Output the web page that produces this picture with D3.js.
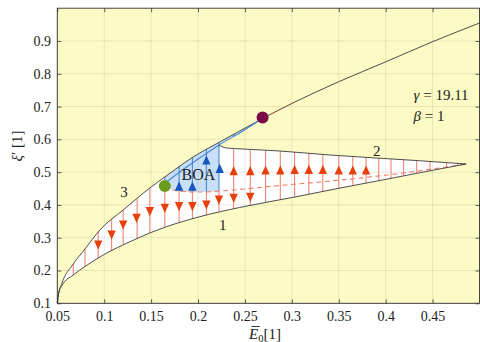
<!DOCTYPE html>
<html>
<head>
<meta charset="utf-8">
<script src="https://cdn.jsdelivr.net/npm/d3@7"></script>
<style>
  body { margin: 0; background: #fff; }
  svg { display: block; }
  svg text { font-family: 'Liberation Serif', 'DejaVu Serif', serif !important; fill: #222; }
</style>
</head>
<body>
<svg id="chart" width="480" height="342"></svg>
<script>
// ---- axis ticks ----
const xTicks = [0.05, 0.1, 0.15, 0.2, 0.25, 0.3, 0.35, 0.4, 0.45];
const xTickLabels = ["0.05", "0.1", "0.15", "0.2", "0.25", "0.3", "0.35", "0.4", "0.45"];
const yTicks = [0.1, 0.2, 0.3, 0.4, 0.5, 0.6, 0.7, 0.8, 0.9];
const yTickLabels = ["0.1", "0.2", "0.3", "0.4", "0.5", "0.6", "0.7", "0.8", "0.9"];

// ---- equilibrium branches ----
// branch 1 (lower stable branch)
const branch1X = [0.05, 0.0513, 0.055, 0.067, 0.0795, 0.0989, 0.1291, 0.1486, 0.1664, 0.2018, 0.2443, 0.3004, 0.35, 0.4004, 0.443, 0.4858];
const branch1Y = [0.1009, 0.1284, 0.1543, 0.1863, 0.2122, 0.2473, 0.29, 0.3144, 0.3336, 0.3641, 0.3922, 0.4227, 0.4507, 0.4782, 0.5019, 0.5248];
// branch 2 (upper right branch, from the corner to the cusp tip)
const branch2X = [0.2223, 0.2252, 0.2305, 0.2476, 0.2869, 0.3401, 0.3898, 0.4358, 0.4858];
const branch2Y = [0.5828, 0.5782, 0.5736, 0.5706, 0.5645, 0.5523, 0.5431, 0.5349, 0.5248];
// branch 3 (upper envelope)
const branch3X = [0.05, 0.0511, 0.055, 0.067, 0.0795, 0.0954, 0.1202, 0.1486, 0.1646, 0.1947, 0.2231, 0.2444, 0.2688, 0.3004, 0.35, 0.4004, 0.45, 0.5];
const branch3Y = [0.1009, 0.1253, 0.1619, 0.2199, 0.2656, 0.3236, 0.3845, 0.4516, 0.4852, 0.5462, 0.5919, 0.6255, 0.6636, 0.71, 0.7758, 0.8368, 0.8978, 0.9548];
// unstable middle branch (dashed)
const unstableX = [0.1646, 0.172, 0.184, 0.2018, 0.2231, 0.2443, 0.2869, 0.3295, 0.4146, 0.4858];
const unstableY = [0.458, 0.4471, 0.441, 0.4394, 0.4425, 0.4471, 0.4593, 0.4699, 0.4959, 0.5248];
// boundary of the basin of attraction
const basinEdgeX = [0.1646, 0.1805, 0.1947, 0.2089, 0.2223, 0.2444, 0.2688];
const basinEdgeY = [0.466, 0.5004, 0.5294, 0.5568, 0.5828, 0.6194, 0.6636];

// ---- trajectories (vertical phase lines) ----
const phaseX = [0.067, 0.0795, 0.0936, 0.1079, 0.1202, 0.1351, 0.1486, 0.1646, 0.1798, 0.194, 0.2089, 0.2223,
  0.238, 0.2557, 0.272, 0.2877, 0.3029, 0.3181, 0.333, 0.35, 0.3649, 0.3791, 0.3926, 0.4057, 0.4191, 0.433, 0.4472, 0.4649, 0.4766];
const downArrowX = [0.0936, 0.1079, 0.1202, 0.1345, 0.1486, 0.1646, 0.1798, 0.194, 0.2089, 0.2223, 0.238, 0.2557];
const downArrowY = [0.2778, 0.3083, 0.3388, 0.3592, 0.3794, 0.3897, 0.3946, 0.3946, 0.3998, 0.415, 0.4202, 0.4233];
const upArrowX = [0.238, 0.2557, 0.272, 0.2877, 0.3029, 0.3181, 0.333, 0.35, 0.3649, 0.3791];
const upArrowY = [0.5044, 0.5044, 0.5065, 0.5065, 0.5087, 0.5087, 0.5087, 0.5065, 0.5065, 0.5065];
const basinArrowX = [0.1798, 0.194, 0.2089, 0.2231];
const basinArrowY = [0.4574, 0.4574, 0.5371, 0.5117];

// ---- special points ----
const saddleNode = [0.1646, 0.458];
const cuspPoint = [0.2688, 0.667];

// ---- parameters ----
const paramLines = [["γ", "19.11"], ["β", "1"]];

// ---- colours ----
const C = {
  plotBg: "#fdfbc5",
  inside: "#ffffff",
  basin: "#c8e0f7",
  curve: "#3a3a3a",
  redLine: "#f08672",
  redArrow: "#e8400c",
  blueLine: "#4a86d0",
  blueArrow: "#1556c0",
  green: "#6b9a1c",
  purple: "#7a0a48"
};
const SERIF = "'Liberation Serif', 'DejaVu Serif', serif";

const svg = d3.select("#chart");
const x = d3.scaleLinear().domain([0.05, 0.5]).range([57.3, 479.5]);
const y = d3.scaleLinear().domain([0.1, 1.0]).range([303.3, 8.2]);
const [X0, X1] = x.range();
const [Y0, Y1] = y.range();

const gBg = svg.append("g");
const gFill = svg.append("g");
const gGrid = svg.append("g");
const gSeg = svg.append("g");
const gCurve = svg.append("g");
const gMark = svg.append("g");
const gText = svg.append("g");
const gAxis = svg.append("g");

gBg.append("rect").attr("x", X0).attr("y", Y1).attr("width", X1 - X0).attr("height", Y0 - Y1).attr("fill", C.plotBg);

const smooth = d3.line().x(d => x(d[0])).y(d => y(d[1])).curve(d3.curveMonotoneX);
const zip = (xs, ys) => xs.map((v, i) => [v, ys[i]]);

function drawCurve(xs, ys, stroke, width, dash) {
  return gCurve.append("path").attr("d", smooth(zip(xs, ys)))
    .attr("fill", "none").attr("stroke", stroke).attr("stroke-width", width)
    .attr("stroke-dasharray", dash || null).node();
}

// y (pixels) of a rendered curve at a given pixel x
function yAt(node, px) {
  const L = node.getTotalLength();
  let lo = 0, hi = L;
  const p0 = node.getPointAtLength(0), p1 = node.getPointAtLength(L);
  if (px <= p0.x) return p0.y;
  if (px >= p1.x) return p1.y;
  for (let i = 0; i < 40; i++) {
    const mid = (lo + hi) / 2;
    if (node.getPointAtLength(mid).x < px) lo = mid; else hi = mid;
  }
  return node.getPointAtLength((lo + hi) / 2).y;
}
function sample(node, pxA, pxB) {
  const n = Math.max(2, Math.ceil(Math.abs(pxB - pxA)));
  return d3.range(n + 1).map(i => {
    const px = pxA + (pxB - pxA) * i / n;
    return [px, yAt(node, px)];
  });
}

const dashNode = drawCurve(unstableX, unstableY, C.redLine, 1.2, "5,3.5");
const p1 = drawCurve(branch1X, branch1Y, C.curve, 0.9);
const p2 = drawCurve(branch2X, branch2Y, C.curve, 0.9);
const p3 = drawCurve(branch3X, branch3Y, C.curve, 0.9);
const pEdge = drawCurve(basinEdgeX, basinEdgeY, C.blueLine, 1.1);

// short unstable stretch along branch 3 beyond the cusp
svg.append("clipPath").attr("id", "cuspClip").append("rect")
  .attr("x", x(cuspPoint[0])).attr("y", Y1).attr("width", x(0.305) - x(cuspPoint[0])).attr("height", Y0 - Y1);
gCurve.append("path").attr("d", smooth(zip(branch3X, branch3Y)))
  .attr("fill", "none").attr("stroke", "#d0604a").attr("stroke-width", 0.8).attr("stroke-dasharray", "4,3")
  .attr("stroke-opacity", 0.8).attr("clip-path", "url(#cuspClip)");

// ---- filled regions ----
const poly = d3.line();
const xStart = x(branch1X[0]);
const xTip = x(branch1X[branch1X.length - 1]);
const xCorner = x(branch2X[0]);
const xSaddle = x(saddleNode[0]);
const xCusp = x(cuspPoint[0]);

const inside = [].concat(sample(p1, xStart, xTip), sample(p2, xTip, xCorner), sample(p3, xCorner, xStart));
gFill.append("path").attr("d", poly(inside) + "Z").attr("fill", C.inside);

const basin = [].concat(sample(p3, xSaddle, xCusp), sample(pEdge, xCusp, xCorner), sample(dashNode, xCorner, xSaddle));
gFill.append("path").attr("d", poly(basin) + "Z").attr("fill", C.basin);

// ---- grid ----
xTicks.forEach(t => gGrid.append("line").attr("x1", x(t)).attr("x2", x(t)).attr("y1", Y0).attr("y2", Y1)
  .attr("stroke", "#000").attr("stroke-opacity", 0.11).attr("stroke-width", 0.8));
yTicks.forEach(t => gGrid.append("line").attr("x1", X0).attr("x2", X1).attr("y1", y(t)).attr("y2", y(t))
  .attr("stroke", "#000").attr("stroke-opacity", 0.11).attr("stroke-width", 0.8));

// ---- phase lines ----
function seg(px, ya, yb, color) {
  gSeg.append("line").attr("x1", px).attr("x2", px).attr("y1", ya).attr("y2", yb)
    .attr("stroke", color).attr("stroke-width", 1.1);
}
phaseX.forEach(v => {
  const px = x(v);
  const yLow = yAt(p1, px);
  if (px < xSaddle - 0.01) {
    seg(px, yLow, yAt(p3, px), C.redLine);
  } else if (px <= xCorner + 0.01) {
    const yMid = yAt(dashNode, px);
    seg(px, yLow, yMid, C.redLine);
    seg(px, yMid, yAt(p3, px), C.blueLine);
  } else {
    seg(px, yLow, yAt(p2, px), C.redLine);
    if (px < xCusp) seg(px, yAt(pEdge, px), yAt(p3, px), C.blueLine);
  }
});

// ---- arrows ----
const triDown = "M-4.2,-4.6L4.2,-4.6L0,4.6Z";
const triUp = "M-4.2,4.6L4.2,4.6L0,-4.6Z";
function arrows(xs, ys, shape, color) {
  gMark.selectAll(null).data(zip(xs, ys)).enter().append("path")
    .attr("d", shape).attr("fill", color)
    .attr("transform", d => `translate(${x(d[0])},${y(d[1])})`);
}
arrows(downArrowX, downArrowY, triDown, C.redArrow);
arrows(upArrowX, upArrowY, triUp, C.redArrow);
arrows(basinArrowX, basinArrowY, triUp, C.blueArrow);

// ---- special points ----
gMark.append("circle").attr("cx", x(saddleNode[0])).attr("cy", y(saddleNode[1])).attr("r", 6).attr("fill", C.green);
gMark.append("circle").attr("cx", x(cuspPoint[0])).attr("cy", y(cuspPoint[1])).attr("r", 6).attr("fill", C.purple);

// ---- annotations ----
function label(txt, cx, cy, size) {
  gText.append("text").attr("x", cx).attr("y", cy).attr("text-anchor", "middle")
    .attr("dominant-baseline", "central").attr("font-size", size)
    .style("font-family", SERIF).text(txt);
}
label("1", 222.7, 225, 15);
label("2", 376.7, 150.7, 15);
label("3", 124, 191.7, 15);
label("BOA", 198.5, 174.5, 16);

paramLines.forEach((p, i) => {
  const t = gText.append("text").attr("x", 413.5).attr("y", 100 + i * 21).attr("font-size", 15)
    .style("font-family", SERIF);
  t.append("tspan").attr("font-style", "italic").text(p[0]);
  t.append("tspan").text(" = " + p[1]);
});

// ---- axes ----
const axB = d3.axisBottom(x).tickValues(xTicks).tickFormat((d, i) => xTickLabels[i])
  .tickSizeInner(-4).tickSizeOuter(0).tickPadding(8);
const axL = d3.axisLeft(y).tickValues(yTicks).tickFormat((d, i) => yTickLabels[i])
  .tickSizeInner(-4).tickSizeOuter(0).tickPadding(6.3);
const axT = d3.axisTop(x).tickValues(xTicks).tickFormat("").tickSizeInner(-4).tickSizeOuter(0);
const axR = d3.axisRight(y).tickValues(yTicks).tickFormat("").tickSizeInner(-4).tickSizeOuter(0);

function styleAxis(g) {
  g.attr("font-family", null);
  g.select(".domain").remove();
  g.selectAll("line").attr("stroke", "#333").attr("stroke-width", 0.8);
  g.selectAll("text").style("font-family", SERIF).attr("font-size", 14).attr("fill", "#222");
}
gAxis.append("g").attr("transform", `translate(0,${Y0})`).call(axB).call(styleAxis);
gAxis.append("g").attr("transform", `translate(${X0},0)`).call(axL).call(styleAxis);
gAxis.append("g").attr("transform", `translate(0,${Y1})`).call(axT).call(styleAxis);
gAxis.append("g").attr("transform", `translate(${X1},0)`).call(axR).call(styleAxis);
gAxis.append("rect").attr("x", X0).attr("y", Y1).attr("width", X1 - X0).attr("height", Y0 - Y1)
  .attr("fill", "none").attr("stroke", "#333").attr("stroke-width", 0.9);

// x-axis title: E-bar with subscript 0
const xt = gAxis.append("text").attr("x", 265).attr("y", 338.5).attr("text-anchor", "middle")
  .attr("font-size", 15).style("font-family", SERIF);
xt.append("tspan").attr("font-style", "italic").text("E");
xt.append("tspan").attr("font-size", 10.5).attr("dy", 3).text("0");
xt.append("tspan").attr("dy", -3).text("[1]");
const xtNode = xt.node();
const eS = xtNode.getStartPositionOfChar(0), eE = xtNode.getEndPositionOfChar(0);
gAxis.append("line").attr("x1", eS.x + 2.5).attr("x2", eE.x + 1.5).attr("y1", 326.5).attr("y2", 326.5)
  .attr("stroke", "#222").attr("stroke-width", 0.9);

// y-axis title
const yt = gAxis.append("text").attr("transform", "translate(22,146) rotate(-90)")
  .attr("text-anchor", "middle").attr("font-size", 15).style("font-family", SERIF);
yt.append("tspan").attr("font-style", "italic").text("ξ");
yt.append("tspan").text("′ [1]");
</script>
</body>
</html>
